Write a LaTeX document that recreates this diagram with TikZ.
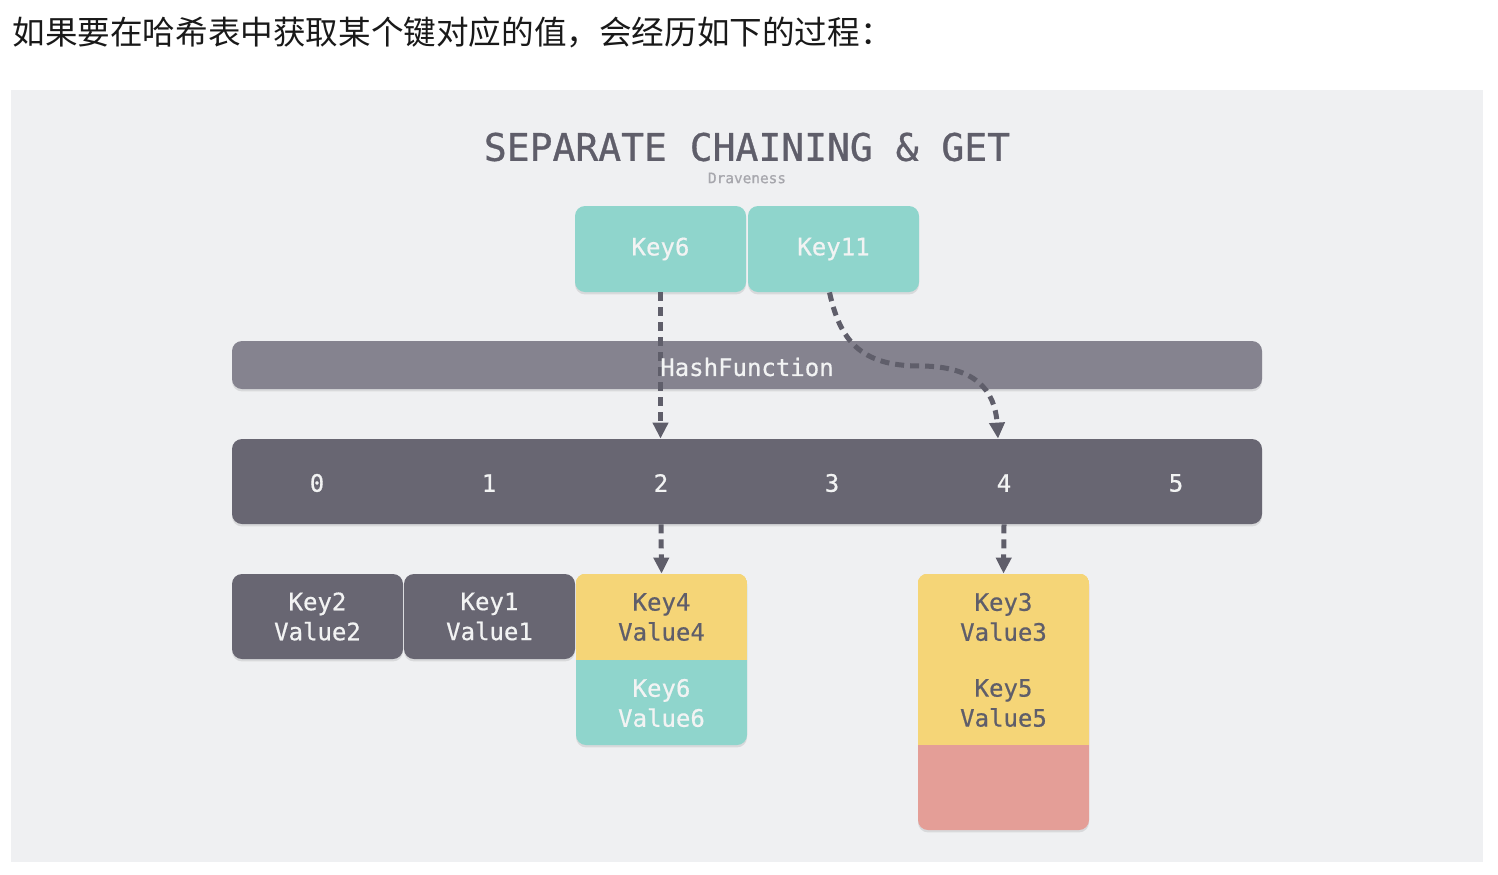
\documentclass[tikz,border=0pt]{standalone}
\usepackage{fontspec}
\newfontfamily\cjk{Noto Sans CJK SC}
\newfontfamily\mono[FakeBold=0.6]{DejaVu Sans Mono}
\newfontfamily\monotitle[FakeBold=0.8]{DejaVu Sans Mono}
\usetikzlibrary{arrows.meta,shadows}
\definecolor{panel}{HTML}{EFF0F2}
\definecolor{keyteal}{HTML}{8FD5CC}
\definecolor{keyyellow}{HTML}{F5D577}
\definecolor{keypink}{HTML}{E49E97}
\definecolor{slot}{HTML}{686672}
\definecolor{hashc}{HTML}{85838F}
\definecolor{ink}{HTML}{5F5E6A}
\definecolor{soft}{HTML}{F2F3F3}

\begin{document}
\begin{tikzpicture}[x=0.5pt, y=-0.5pt]
\tikzstyle{cell}=[rectangle, rounded corners=5pt, inner sep=0pt, minimum width=85.5pt, minimum height=42.5pt, align=center, font=\mono\fontsize{12}{15}\selectfont, text=soft, drop shadow={shadow xshift=0pt, shadow yshift=-1.2pt, opacity=0.2}]
\tikzstyle{bar}=[rectangle, rounded corners=5pt, inner sep=0pt, minimum width=515pt, drop shadow={shadow xshift=0pt, shadow yshift=-1.2pt, opacity=0.2}]
\tikzstyle{txt}=[inner sep=0pt, align=center, font=\mono\fontsize{12}{15}\selectfont, text=soft]
\tikzstyle{flow}=[draw=ink, line width=2.5pt, dash pattern=on 4.5pt off 3pt, -{Triangle[width=7.5pt,length=8pt]}]

\useasboundingbox[fill=white] (0,0) rectangle (1498,874);
\node (intro) [anchor=west, inner sep=0pt, font=\cjk\fontsize{16.3}{16.3}\selectfont, text=black!90] at (12,32) {如果要在哈希表中获取某个键对应的值，会经历如下的过程：};
\fill[panel] (11,90) rectangle (1483,862);

\node (title) [inner sep=0pt, font=\monotitle\fontsize{19}{19}\selectfont, text=ink] at (747,147) {SEPARATE CHAINING \& GET};
\node (author) [inner sep=0pt, font=\mono\fontsize{7.2}{8}\selectfont, text=ink!55] at (747,178) {Draveness};

% keys
\node (k6) [cell, fill=keyteal, minimum height=43pt] at (660.5,249) {Key6};
\node (k11) [cell, fill=keyteal, minimum height=43pt] at (833.5,249) {Key11};

% hash function and buckets
\node (hashbar) [bar, fill=hashc, minimum height=24pt] at (747,365) {};
\node (arr) [bar, fill=slot, minimum height=42.5pt] at (747,481.5) {};
\foreach \i/\x in {0/317,1/489,2/661,3/832,4/1004,5/1176}
  \node (n\i) [txt] at (\x,483) {\i};

\draw [flow] (k6.south) -- (k6.south |- arr.north);
\draw [flow] ([xshift=-2pt]k11.south) .. controls (840,340) and (860,366) .. (920,366)
  .. controls (975,366) and (995,390) .. ([xshift=-3pt]n4 |- arr.north);
\node (hash) [txt] at (747,367) {HashFunction};

% chains
\node (k2) [cell, fill=slot] at (317.5,616.5) {Key2\\Value2};
\node (k1) [cell, fill=slot] at (489.5,616.5) {Key1\\Value1};

\node (col2) [cell, fill=keyteal, minimum height=85.5pt] at (661.5,659.5) {};
\begin{scope}
\clip[rounded corners=5pt] (col2.south west) rectangle (col2.north east);
\fill[keyyellow] (col2.north west) rectangle (col2.east);
\end{scope}
\node (k4) [txt, text=ink] at (661.5,617) {Key4\\Value4};
\node (k6v) [txt] at (661.5,703) {Key6\\Value6};

\node (col4) [cell, fill=keypink, minimum height=128pt] at (1003.5,702) {};
\begin{scope}
\clip[rounded corners=5pt] (col4.south west) rectangle (col4.north east);
\fill[keyyellow] (col4.north west) rectangle ([yshift=-85.5pt]col4.north east);
\end{scope}
\node (k3) [txt, text=ink] at (1003.5,617) {Key3\\Value3};
\node (k5) [txt, text=ink] at (1003.5,703) {Key5\\Value5};

\draw [flow] (n2 |- arr.south) -- (col2.north);
\draw [flow] (n4 |- arr.south) -- (col4.north);
\end{tikzpicture}
\end{document}
